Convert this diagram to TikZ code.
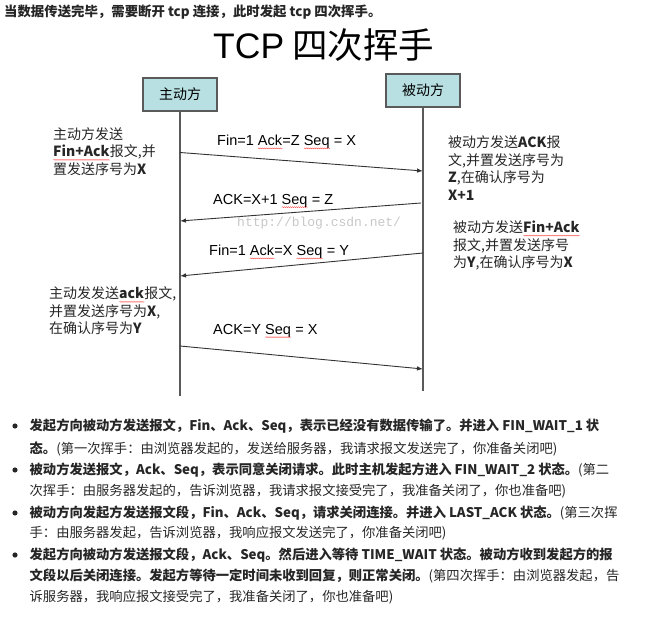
\documentclass[tikz,border=0pt]{standalone}
\usepackage{fontspec}
\setmainfont{Noto Sans CJK SC}
\newfontfamily\arial{Liberation Sans}
\newfontfamily\mono{Liberation Mono}
\usetikzlibrary{arrows.meta,decorations.pathmorphing}
\newsavebox\sqbox
\newcommand\sq[1]{\sbox\sqbox{#1}\rlap{\usebox\sqbox}\raisebox{-3pt}{\tikz[baseline=0pt]\draw[red!75, line width=0.35pt, decorate, decoration={snake, amplitude=0.5pt, segment length=2pt}] (0pt,0pt) -- (\the\wd\sqbox,0pt);}}
\definecolor{boxfill}{HTML}{B8E0E2}
\definecolor{lifegray}{HTML}{5A5A5A}
\tikzset{
  actor/.style={draw=lifegray, line width=1.4pt, fill=boxfill, minimum width=74pt, minimum height=33pt, inner sep=0pt, font=\fontsize{14}{14}\selectfont},
  life/.style={draw=lifegray, line width=1.6pt},
  msg/.style={draw=black!80, line width=0.9pt, -{Latex[length=6pt,width=4.5pt]}},
  note/.style={anchor=west, inner sep=0pt, align=left, text=black!85, font=\fontsize{14}{17.5}\selectfont},
  lbl/.style={anchor=west, inner sep=0pt, font=\arial\fontsize{14.5}{14.5}\selectfont},
  row/.style={anchor=west, inner sep=0pt, text=black!85, font=\fontsize{13.3}{13.3}\selectfont}
}

\begin{document}
\begin{tikzpicture}[x=1pt, y=-1pt]
    \useasboundingbox (0,0) rectangle (654,620);
    \node[row, font=\bfseries\fontsize{13.4}{13.4}\selectfont] (head) at (4,12) {当数据传送完毕，需要断开 tcp 连接，此时发起 tcp 四次挥手。};
    \node[anchor=west, inner sep=0pt, font=\fontsize{35.5}{35.5}\selectfont] (title) at (213,45) {{\arial TCP} 四次挥手};
    \node[actor] (a) at (180,94.5) {主动方};
    \node[actor] (b) at (423,90.5) {被动方};
    \coordinate (ae) at (180,396);
    \coordinate (be) at (423,391);
    \draw[life] (a) -- (ae);
    \draw[life] (b) -- (be);
    \coordinate (a1) at (180,152.5);
    \coordinate (b1) at (423,171);
    \coordinate (b2) at (421,203);
    \coordinate (a2) at (180,221);
    \coordinate (b3) at (423,253);
    \coordinate (a3) at (180,276);
    \coordinate (a4) at (180,346);
    \coordinate (b4) at (423,369);
    \draw[msg] (a1) -- (b1);
    \draw[msg] (b2) -- (a2);
    \draw[msg] (b3) -- (a3);
    \draw[msg] (a4) -- (b4);
    \node[lbl] (m1) at (217,142) {Fin=1 \sq{Ack}=Z \sq{Seq} = X};
    \node[lbl] (m2) at (213,201) {ACK=X+1 \sq{Seq} = Z};
    \node[lbl] (m3) at (209,252) {Fin=1 \sq{Ack}=X \sq{Seq} = Y};
    \node[lbl] (m4) at (213,331) {ACK=Y \sq{Seq} = X};
    \node[anchor=west, inner sep=0pt, text=black!22, font=\mono\fontsize{13}{13}\selectfont] (wm) at (237,223) {http://blog.csdn.net/};
    \node[note] (n1) at (53,151.5) {主动方发送\\\textbf{\sq{Fin+Ack}}报文,并\\置发送序号为\textbf{X}};
    \node[note] (n2) at (448,168) {被动方发送\textbf{ACK}报\\文,并置发送序号为\\\textbf{Z},在确认序号为\\\textbf{X+1}};
    \node[note] (n3) at (453,245.5) {被动方发送\textbf{\sq{Fin+Ack}}\\报文,并置发送序号\\为\textbf{Y},在确认序号为\textbf{X}};
    \node[note] (n4) at (49,311) {主动发发送\textbf{\sq{ack}}报文,\\并置发送序号为\textbf{X},\\在确认序号为\textbf{Y}};
    \foreach \y in {426,470,513,555}
        \fill[black!85] (15,\y) circle (2.6pt);
    \node[row] (r1) at (29.5,426) {\textbf{发起方向被动方发送报文，Fin、Ack、Seq，表示已经没有数据传输了。并进入 FIN\_WAIT\_1 状}};
    \node[row] (r2) at (29.5,449) {\textbf{态。}(第一次挥手：由浏览器发起的，发送给服务器，我请求报文发送完了，你准备关闭吧)};
    \node[row] (r3) at (29.5,470) {\textbf{被动方发送报文，Ack、Seq，表示同意关闭请求。此时主机发起方进入 FIN\_WAIT\_2 状态。}(第二};
    \node[row] (r4) at (29.5,491) {次挥手：由服务器发起的，告诉浏览器，我请求报文接受完了，我准备关闭了，你也准备吧)};
    \node[row] (r5) at (29.5,513) {\textbf{被动方向发起方发送报文段，Fin、Ack、Seq，请求关闭连接。并进入 LAST\_ACK 状态。}(第三次挥};
    \node[row] (r6) at (29.5,533) {手：由服务器发起，告诉浏览器，我响应报文发送完了，你准备关闭吧)};
    \node[row] (r7) at (29.5,555) {\textbf{发起方向被动方发送报文段，Ack、Seq。然后进入等待 TIME\_WAIT 状态。被动方收到发起方的报}};
    \node[row] (r8) at (29.5,576) {\textbf{文段以后关闭连接。发起方等待一定时间未收到回复，则正常关闭。}(第四次挥手：由浏览器发起，告};
    \node[row] (r9) at (29.5,597) {诉服务器，我响应报文接受完了，我准备关闭了，你也准备吧)};
\end{tikzpicture}
\end{document}
